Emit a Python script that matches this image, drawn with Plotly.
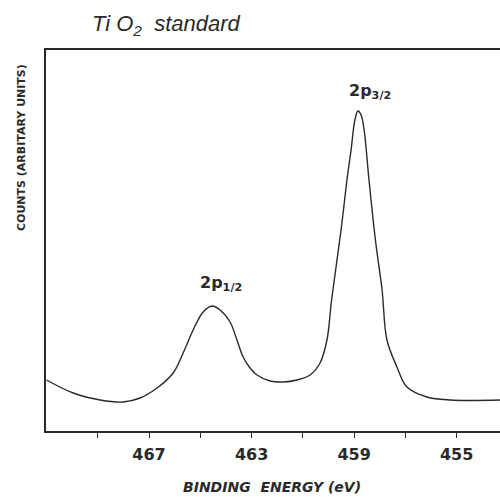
import plotly.graph_objects as go

# Binding energy (eV) and counts (arbitrary units)
energy_ev = [471.0, 469.96, 468.91, 468.01, 467.35, 466.69, 466.06, 465.67, 465.28,
             464.89, 464.54, 464.23, 463.84, 463.57, 463.33, 463.06, 462.79, 462.28,
             461.77, 461.23, 460.72, 460.33, 460.06, 459.88, 459.51, 459.28, 459.12,
             458.97, 458.85, 458.73, 458.61, 458.42, 458.17, 457.91, 457.72, 457.33,
             456.94, 456.16, 455.26, 453.31]
counts = [51, 38, 31, 29, 33, 43, 58, 78, 101,
          119, 125, 121, 109, 91, 74, 63, 56, 50,
          49, 51, 56, 68, 91, 131, 201, 251, 281,
          311, 320, 316, 301, 251, 191, 141, 91, 64,
          44, 34, 31, 31]

tick_vals = [469, 467, 465, 463, 461, 459, 457, 455]
tick_text = ["", "467", "", "463", "", "459", "", "455"]

peak_labels = ["2p<sub>1/2</sub>", "2p<sub>3/2</sub>"]
peak_x = [464.19, 458.38]
peak_y = [135, 327]

ink = "#2a2a2a"
font_main = "DejaVu Sans"

fig = go.Figure()
fig.add_trace(go.Scatter(
    x=energy_ev, y=counts, mode="lines",
    line=dict(color=ink, width=1.4, shape="spline", smoothing=1.0),
    hoverinfo="skip", showlegend=False,
))

for lab, px, py in zip(peak_labels, peak_x, peak_y):
    fig.add_annotation(x=px, y=py, xref="x", yref="y", text=lab, showarrow=False,
                       xanchor="center", yanchor="bottom",
                       font=dict(family=font_main, size=16, color=ink, weight="bold"))

fig.add_annotation(x=(90 - 46) / 454, y=(431 - 25) / 381, xref="paper", yref="paper",
                   xanchor="left", yanchor="middle", showarrow=False,
                   text="Ti O<sub>2</sub>  standard",
                   font=dict(family="Liberation Sans", size=22, color=ink, style="italic"))
fig.add_annotation(x=(272 - 46) / 454, y=(431 - 487) / 381, xref="paper", yref="paper",
                   xanchor="center", yanchor="middle", showarrow=False,
                   text="BINDING  ENERGY (eV)",
                   font=dict(family=font_main, size=14, color=ink, weight="bold", style="italic"))
fig.add_annotation(x=(21 - 46) / 454, y=(431 - 148) / 381, xref="paper", yref="paper",
                   xanchor="center", yanchor="middle", showarrow=False, textangle=-90,
                   text="COUNTS (ARBITARY UNITS)",
                   font=dict(family=font_main, size=11, color=ink, weight="bold"))

fig.update_layout(
    width=500, height=497,
    margin=dict(l=46, r=0, t=50, b=66),
    paper_bgcolor="white", plot_bgcolor="white",
    xaxis=dict(
        range=[471.02, 453.31], showgrid=False, zeroline=False,
        showline=True, linecolor=ink, linewidth=1.5, mirror=True,
        ticks="outside", ticklen=5, tickwidth=1.3, tickcolor=ink,
        tickmode="array", tickvals=tick_vals, ticktext=tick_text,
        ticklabelstandoff=3,
        tickfont=dict(family=font_main, size=16, color=ink, weight="bold"),
    ),
    yaxis=dict(
        range=[0, 381], showgrid=False, zeroline=False,
        showline=True, linecolor=ink, linewidth=1.5,
        showticklabels=False, ticks="",
    ),
)

fig.write_html(
    "out.html",
    config={"displayModeBar": False},
    post_script="document.body.style.margin='0';document.body.style.overflow='hidden';",
)
